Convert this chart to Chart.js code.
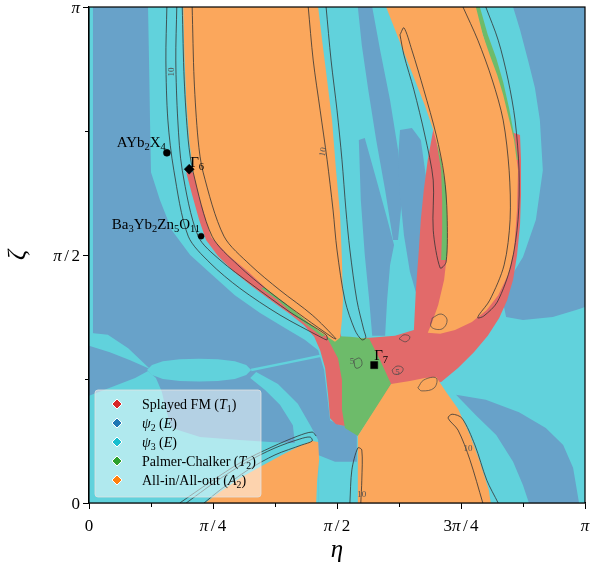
<!DOCTYPE html>
<html lang="en">
<head>
<meta charset="utf-8">
<title>Phase diagram</title>
<script src="https://cdn.jsdelivr.net/npm/chart.js@4.4.1/dist/chart.umd.min.js"></script>
<style>
  html, body { margin: 0; padding: 0; background: #ffffff; }
  #box { position: relative; width: 592px; height: 576px; }
</style>
</head>
<body>
<div id="box"><canvas id="phaseChart" width="592" height="576"></canvas></div>
<script>
// Phase diagram in the (eta, zeta) plane, both angles in units of pi.

// ---- phase regions, outlines as [eta, zeta] ----
const fullDomain = [[0, 0], [1, 0], [1, 1], [0, 1]];

const psi3Main = [[0.119, 1.0], [0.121, 0.893], [0.123, 0.772], [0.125, 0.667], [0.143, 0.611], [0.167, 0.550],
  [0.204, 0.500], [0.248, 0.460], [0.294, 0.419], [0.345, 0.383], [0.395, 0.353], [0.435, 0.329], [0.462, 0.308],
  [0.474, 0.268], [0.486, 0.167], [0.506, 0.157], [0.540, 0.157], [0.540, 0.083], [0.496, 0.083], [0.462, 0.097],
  [0.462, 0], [1, 0], [1, 0.395], [0.982, 0.389], [0.935, 0.375], [0.875, 0.369], [0.841, 0.375], [0.835, 0.403],
  [0.847, 0.450], [0.875, 0.496], [0.901, 0.571], [0.915, 0.671], [0.909, 0.772], [0.899, 0.837], [0.885, 0.893],
  [0.869, 0.954], [0.855, 1.0]];
const psi3Edge = [[0, 1], [0.008, 1], [0.008, 0.33], [0, 0.33]];
const psi3Wedge = [[0, 0.343], [0.038, 0.339], [0.079, 0.312], [0.123, 0.270], [0.083, 0.288], [0.042, 0.304], [0, 0.317]];
const psi3Ellipse = [[0.117, 0.268], [0.127, 0.278], [0.149, 0.286], [0.183, 0.290], [0.222, 0.291], [0.260, 0.290],
  [0.294, 0.286], [0.317, 0.278], [0.327, 0.268], [0.317, 0.258], [0.294, 0.250], [0.260, 0.246], [0.222, 0.245],
  [0.183, 0.246], [0.149, 0.250], [0.127, 0.258]];
const psi3LowerLeft = [[0, 0.216], [0.046, 0.234], [0.093, 0.252], [0.119, 0.266], [0.135, 0.252], [0.147, 0.224],
  [0.155, 0.188], [0.167, 0.151], [0.224, 0.133], [0.304, 0.127], [0.365, 0.123], [0.415, 0.121], [0.411, 0.157],
  [0.385, 0.198], [0.355, 0.228], [0.325, 0.252], [0.337, 0.264], [0.381, 0.240], [0.421, 0.200], [0.446, 0.157],
  [0.462, 0.127], [0.462, 0], [0, 0]];
const psi3Thread = [[0.327, 0.268], [0.405, 0.284], [0.502, 0.304]];

const psi2Streak1 = [[0.542, 1.0], [0.571, 1.0], [0.587, 0.913], [0.607, 0.812], [0.623, 0.712], [0.631, 0.611],
  [0.623, 0.530], [0.613, 0.530], [0.597, 0.631], [0.579, 0.732], [0.563, 0.833], [0.550, 0.923]];
const psi2Streak2 = [[0.544, 0.732], [0.556, 0.736], [0.577, 0.661], [0.599, 0.581], [0.615, 0.520], [0.607, 0.480],
  [0.601, 0.409], [0.597, 0.337], [0.571, 0.337], [0.565, 0.409], [0.556, 0.500], [0.548, 0.611]];
const psi2Streak3 = [[0.627, 0.752], [0.651, 0.756], [0.669, 0.732], [0.679, 0.661], [0.681, 0.591], [0.675, 0.520],
  [0.667, 0.470], [0.659, 0.425], [0.647, 0.466], [0.635, 0.540], [0.627, 0.621], [0.623, 0.692]];
const psi2LowerRight = [[0.740, 0.218], [0.800, 0.208], [0.867, 0.183], [0.921, 0.151], [0.956, 0.117], [0.976, 0.071],
  [0.988, 0], [0.887, 0], [0.875, 0.036], [0.855, 0.083], [0.821, 0.137], [0.780, 0.177]];

const splayedCore = [[0.196, 0.667], [0.208, 0.621], [0.222, 0.571], [0.236, 0.530], [0.260, 0.498], [0.292, 0.466],
  [0.331, 0.435], [0.369, 0.407], [0.405, 0.381], [0.433, 0.359], [0.454, 0.335], [0.466, 0.308], [0.476, 0.272],
  [0.482, 0.218], [0.486, 0.171], [0.498, 0.159], [0.538, 0.151], [0.617, 0.232], [0.710, 0.244], [0.744, 0.272],
  [0.776, 0.304], [0.804, 0.337], [0.827, 0.373], [0.843, 0.409], [0.855, 0.450], [0.863, 0.500], [0.869, 0.560],
  [0.871, 0.621], [0.871, 0.692], [0.869, 0.742], [0.839, 0.752], [0.768, 0.762], [0.708, 0.762], [0.694, 0.752],
  [0.683, 0.692], [0.675, 0.631], [0.669, 0.571], [0.665, 0.510], [0.659, 0.429], [0.655, 0.349], [0.617, 0.337],
  [0.567, 0.333], [0.510, 0.331], [0.498, 0.369], [0.486, 0.409], [0.385, 0.510], [0.284, 0.611], [0.224, 0.667]];

const pcLensEdge = [[0.347, 0.433], [0.381, 0.409], [0.409, 0.383], [0.442, 0.357], [0.470, 0.335], [0.496, 0.349],
  [0.435, 0.399], [0.375, 0.440]];
const pcBandLeft = [[0.700, 0.732], [0.710, 0.671], [0.712, 0.611], [0.712, 0.550], [0.710, 0.490], [0.728, 0.490],
  [0.730, 0.550], [0.730, 0.611], [0.726, 0.671], [0.716, 0.732]];
const pcBandRight = [[0.788, 1.0], [0.804, 0.944], [0.821, 0.897], [0.835, 0.849], [0.847, 0.796], [0.857, 0.742],
  [0.865, 0.692], [0.849, 0.692], [0.839, 0.772], [0.825, 0.833], [0.808, 0.893], [0.794, 0.944], [0.776, 1.0]];
const pcCore = [[0.478, 0.337], [0.526, 0.335], [0.565, 0.331], [0.587, 0.288], [0.609, 0.240], [0.577, 0.188],
  [0.542, 0.135], [0.516, 0.151], [0.510, 0.188], [0.510, 0.248], [0.502, 0.292]];

const aioLeftLens = [[0.190, 1.0], [0.192, 0.913], [0.196, 0.812], [0.202, 0.732], [0.210, 0.667], [0.224, 0.611],
  [0.246, 0.536], [0.280, 0.500], [0.321, 0.466], [0.361, 0.429], [0.395, 0.403], [0.431, 0.373], [0.466, 0.345],
  [0.496, 0.325], [0.506, 0.333], [0.510, 0.369], [0.512, 0.409], [0.510, 0.490], [0.506, 0.585], [0.498, 0.671],
  [0.490, 0.772], [0.480, 0.853], [0.470, 0.933], [0.462, 1.0]];
const aioRightBand = [[0.599, 1.0], [0.617, 0.954], [0.637, 0.903], [0.657, 0.853], [0.677, 0.802], [0.694, 0.752],
  [0.710, 0.692], [0.720, 0.631], [0.722, 0.571], [0.722, 0.504], [0.716, 0.450], [0.704, 0.399], [0.692, 0.365],
  [0.683, 0.343], [0.708, 0.341], [0.738, 0.349], [0.772, 0.365], [0.802, 0.389], [0.825, 0.419], [0.845, 0.460],
  [0.857, 0.510], [0.863, 0.591], [0.865, 0.671], [0.857, 0.732], [0.845, 0.782], [0.835, 0.823], [0.823, 0.863],
  [0.808, 0.903], [0.794, 0.944], [0.780, 1.0]];
const aioLower = [[0.542, 0], [0.542, 0.135], [0.609, 0.240], [0.647, 0.246], [0.677, 0.252], [0.700, 0.254],
  [0.720, 0.224], [0.744, 0.190], [0.768, 0.137], [0.788, 0.083], [0.806, 0.026], [0.810, 0]];
const aioCorner = [[0.234, 0], [0.264, 0.022], [0.304, 0.050], [0.349, 0.075], [0.389, 0.097], [0.425, 0.115],
  [0.450, 0.125], [0.462, 0.123], [0.464, 0.087], [0.460, 0.046], [0.458, 0]];

// ---- contour lines of the energy gap ----
const contourOuterLeft = [[0.157, 1.0], [0.155, 0.893], [0.159, 0.772], [0.171, 0.671], [0.200, 0.538], [0.244, 0.484],
  [0.304, 0.433], [0.385, 0.379], [0.470, 0.333], [0.480, 0.329], [0.478, 0.339], [0.405, 0.385], [0.329, 0.440],
  [0.264, 0.490], [0.220, 0.538], [0.188, 0.671], [0.179, 0.772], [0.175, 0.893], [0.177, 1.0]];
const contourInnerLeft = [[0.188, 1.0], [0.192, 0.853], [0.200, 0.732], [0.210, 0.667], [0.248, 0.538], [0.300, 0.480],
  [0.365, 0.425], [0.435, 0.373], [0.492, 0.333], [0.498, 0.331], [0.450, 0.379], [0.385, 0.429], [0.325, 0.480],
  [0.272, 0.538], [0.230, 0.667], [0.220, 0.732], [0.212, 0.853], [0.208, 1.0]];
const contourLensRight = [[0.442, 1.0], [0.452, 0.893], [0.466, 0.792], [0.480, 0.692], [0.492, 0.591], [0.500, 0.510],
  [0.516, 0.409], [0.536, 0.349], [0.550, 0.329], [0.558, 0.333], [0.554, 0.349], [0.540, 0.409], [0.526, 0.510],
  [0.518, 0.591], [0.510, 0.692], [0.500, 0.792], [0.488, 0.893], [0.478, 1.0]];
const contourBandLeft = [[0.627, 0.944], [0.635, 0.958], [0.651, 0.913], [0.675, 0.833], [0.700, 0.742], [0.716, 0.661],
  [0.722, 0.581], [0.720, 0.486], [0.708, 0.474], [0.694, 0.550], [0.694, 0.651], [0.677, 0.742], [0.655, 0.833],
  [0.635, 0.903], [0.627, 0.944]];
const contourBandRight = [[0.754, 1.0], [0.784, 0.933], [0.813, 0.853], [0.835, 0.772], [0.847, 0.671], [0.849, 0.571],
  [0.837, 0.480], [0.808, 0.409], [0.786, 0.379], [0.784, 0.373], [0.796, 0.377], [0.823, 0.405], [0.851, 0.480],
  [0.865, 0.571], [0.867, 0.671], [0.859, 0.772], [0.845, 0.853], [0.825, 0.933], [0.800, 1.0]];
const contourCorner = [[0.196, 0], [0.254, 0.042], [0.315, 0.081], [0.375, 0.111], [0.425, 0.129], [0.446, 0.133],
  [0.450, 0.125], [0.429, 0.117], [0.375, 0.097], [0.321, 0.067], [0.264, 0.026], [0.232, 0]];
const contourCornerOuter = [[0.183, 0], [0.244, 0.042], [0.308, 0.083], [0.369, 0.113], [0.421, 0.135], [0.450, 0.143],
  [0.458, 0.135]];
const contourLowerRight = [[0.794, 0], [0.768, 0.087], [0.744, 0.147], [0.724, 0.171], [0.732, 0.179], [0.752, 0.171],
  [0.778, 0.117], [0.802, 0.046], [0.825, 0]];
const contourLowerMid = [[0.526, 0], [0.530, 0.067], [0.542, 0.111], [0.550, 0.107], [0.550, 0.046], [0.548, 0]];
const contourSmallA = [[0.692, 0.373], [0.710, 0.381], [0.722, 0.369], [0.712, 0.351], [0.690, 0.355], [0.692, 0.373]];
const contourSmallB = [[0.663, 0.232], [0.675, 0.248], [0.700, 0.252], [0.696, 0.232], [0.671, 0.226], [0.663, 0.232]];
const contourSmallC = [[0.611, 0.268], [0.621, 0.276], [0.633, 0.272], [0.629, 0.262], [0.615, 0.260], [0.611, 0.268]];
const contourSmallD = [[0.534, 0.288], [0.546, 0.292], [0.550, 0.278], [0.538, 0.272], [0.534, 0.288]];
const contourSmallE = [[0.625, 0.331], [0.635, 0.339], [0.647, 0.335], [0.639, 0.325], [0.625, 0.331]];

// contour level labels
const levelEta = [0.167, 0.472, 0.764, 0.550, 0.530, 0.622];
const levelZeta = [0.869, 0.708, 0.109, 0.016, 0.286, 0.262];
const levelText = ['10', '10', '10', '10', '5', '5'];
const levelAngle = [-90, -80, 0, 0, 0, 0];

// ---- marked materials and special points ----
const pointEta = [0.157, 0.202, 0.226, 0.575];
const pointZeta = [0.706, 0.673, 0.538, 0.278];
const pointLabels = [
  [{ t: 'AYb' }, { t: '2', sub: 1 }, { t: 'X' }, { t: '4', sub: 1 }],
  [{ t: 'Γ' }, { t: '6', sub: 1 }],
  [{ t: 'Ba' }, { t: '3', sub: 1 }, { t: 'Yb' }, { t: '2', sub: 1 }, { t: 'Zn' }, { t: '5', sub: 1 }, { t: 'O' }, { t: '11', sub: 1 }],
  [{ t: 'Γ' }, { t: '7', sub: 1 }]
];

// ---- axes ----
const xTickValues = [0, 0.25, 0.5, 0.75, 1];
const xTickLabels = [
  [{ t: '0' }],
  [{ t: 'π', it: 1 }, { t: '/', pad: 2.5 }, { t: '4' }],
  [{ t: 'π', it: 1 }, { t: '/', pad: 2.5 }, { t: '2' }],
  [{ t: '3' }, { t: 'π', it: 1 }, { t: '/', pad: 2.5 }, { t: '4' }],
  [{ t: 'π', it: 1 }]
];
const xMinorTicks = [0.125, 0.375, 0.625, 0.875];
const yTickValues = [0, 0.5, 1];
const yTickLabels = [
  [{ t: '0' }],
  [{ t: 'π', it: 1 }, { t: '/', pad: 2.5 }, { t: '2' }],
  [{ t: 'π', it: 1 }]
];
const yMinorTicks = [0.25, 0.75];

// ---- legend ----
const phaseNames = [
  [{ t: 'Splayed FM (' }, { t: 'T', it: 1 }, { t: '1', sub: 1 }, { t: ')' }],
  [{ t: 'ψ', it: 1 }, { t: '2', sub: 1 }, { t: ' (' }, { t: 'E', it: 1 }, { t: ')' }],
  [{ t: 'ψ', it: 1 }, { t: '3', sub: 1 }, { t: ' (' }, { t: 'E', it: 1 }, { t: ')' }],
  [{ t: 'Palmer-Chalker (' }, { t: 'T', it: 1 }, { t: '2', sub: 1 }, { t: ')' }],
  [{ t: 'All-in/All-out (' }, { t: 'A', it: 1 }, { t: '2', sub: 1 }, { t: ')' }]
];
const phaseMarkerColors = ['#d62728', '#1f77b4', '#17becf', '#2ca02c', '#ff7f0e'];

// region fill colours
const RED = '#e26a6a', BLUE = '#68a2c9', CYAN = '#61d2dc', GREEN = '#6dbb6a', ORANGE = '#fba75c';
const SERIF = '"Liberation Serif", "DejaVu Serif", serif';

const regionLayers = [
  [fullDomain, BLUE],
  [psi3Main, CYAN], [psi3Edge, CYAN], [psi3Wedge, CYAN], [psi3Ellipse, CYAN], [psi3LowerLeft, CYAN],
  [psi2Streak1, BLUE], [psi2Streak2, BLUE], [psi2Streak3, BLUE], [psi2LowerRight, BLUE],
  [splayedCore, RED],
  [pcLensEdge, GREEN], [pcBandLeft, GREEN], [pcBandRight, GREEN], [pcCore, GREEN],
  [aioLeftLens, ORANGE], [aioRightBand, ORANGE], [aioLower, ORANGE], [aioCorner, ORANGE]
];
const contours = [contourOuterLeft, contourInnerLeft, contourLensRight, contourBandLeft, contourBandRight,
  contourCorner, contourCornerOuter, contourLowerRight, contourLowerMid];
const smallContours = [contourSmallA, contourSmallB, contourSmallC, contourSmallD, contourSmallE];

const toXY = pts => pts.map(([x, y]) => ({ x, y }));

// first datasets end up on top in Chart.js, so bottom layers get the highest order
const datasets = [];
regionLayers.forEach(([pts, color], i) => {
  datasets.push({
    type: 'line', data: toXY(pts), backgroundColor: color, borderColor: color, borderWidth: 0,
    pointRadius: 0, fill: 'shape', tension: 0, order: 1000 - i
  });
});
datasets.push({
  type: 'line', data: toXY(psi3Thread), borderColor: CYAN, borderWidth: 2.5,
  pointRadius: 0, fill: false, order: 1000 - 9.5
});
contours.forEach(pts => {
  datasets.push({
    type: 'line', data: toXY(pts), borderColor: '#333', borderWidth: 0.8,
    pointRadius: 0, fill: false, tension: 0.3, order: 10
  });
});
smallContours.forEach(pts => {
  datasets.push({
    type: 'line', data: toXY(pts), borderColor: '#444', borderWidth: 0.7,
    pointRadius: 0, fill: false, tension: 0.4, order: 10
  });
});
datasets.push({
  type: 'scatter', data: pointEta.map((x, i) => ({ x, y: pointZeta[i] })),
  pointStyle: ['circle', 'rectRot', 'circle', 'rect'], pointRadius: [3.5, 5, 3, 5],
  pointBackgroundColor: '#000', pointBorderColor: '#000', pointBorderWidth: 0.5, showLine: false, order: 0
});

// text with italic / subscript runs
function drawRich(ctx, parts, x, y, size, align) {
  const runs = parts.map(p => {
    const s = p.sub ? size * 0.7 : size;
    const font = (p.it ? 'italic ' : '') + s + 'px ' + SERIF;
    ctx.font = font;
    return { t: p.t, font, w: ctx.measureText(p.t).width, pad: p.pad || 0, dy: p.sub ? size * 0.22 : 0 };
  });
  const total = runs.reduce((a, r) => a + r.w + 2 * r.pad, 0);
  let cx = align === 'right' ? x - total : align === 'center' ? x - total / 2 : x;
  ctx.textAlign = 'left';
  ctx.textBaseline = 'alphabetic';
  runs.forEach(r => {
    ctx.font = r.font;
    cx += r.pad;
    ctx.fillText(r.t, cx, y + r.dy);
    cx += r.w + r.pad;
  });
}

const labelOffsets = [[-1, -6, 'right'], [1, -2, 'left'], [-1, -7, 'right'], [0, -5, 'left']];

const decorations = {
  id: 'decorations',
  afterDatasetsDraw(chart) {
    const { ctx, chartArea: a, scales: { x, y } } = chart;
    ctx.save();

    // contour level numbers
    ctx.fillStyle = '#555';
    ctx.font = '9px ' + SERIF;
    ctx.textAlign = 'center';
    ctx.textBaseline = 'middle';
    levelText.forEach((t, i) => {
      ctx.save();
      ctx.translate(x.getPixelForValue(levelEta[i]), y.getPixelForValue(levelZeta[i]));
      ctx.rotate(levelAngle[i] * Math.PI / 180);
      ctx.fillText(t, 0, 0);
      ctx.restore();
    });

    ctx.fillStyle = '#000';
    pointLabels.forEach((parts, i) => {
      const [dx, dy, align] = labelOffsets[i];
      drawRich(ctx, parts, x.getPixelForValue(pointEta[i]) + dx, y.getPixelForValue(pointZeta[i]) + dy, 15, align);
    });

    // legend box
    const lw = 166, lh = 107;
    const lx = a.left + 6, ly = a.bottom - 6 - lh;
    ctx.beginPath();
    if (ctx.roundRect) ctx.roundRect(lx, ly, lw, lh, 3); else ctx.rect(lx, ly, lw, lh);
    ctx.fillStyle = 'rgba(255,255,255,0.5)';
    ctx.fill();
    ctx.strokeStyle = 'rgba(225,225,225,0.8)';
    ctx.lineWidth = 1;
    ctx.stroke();
    phaseNames.forEach((parts, i) => {
      const cy = ly + 14 + i * 19;
      const mx = lx + 22;
      ctx.beginPath();
      ctx.moveTo(mx, cy - 5); ctx.lineTo(mx + 5, cy); ctx.lineTo(mx, cy + 5); ctx.lineTo(mx - 5, cy);
      ctx.closePath();
      ctx.fillStyle = phaseMarkerColors[i];
      ctx.fill();
      ctx.strokeStyle = '#fff';
      ctx.lineWidth = 1;
      ctx.stroke();
      ctx.fillStyle = '#000';
      drawRich(ctx, parts, lx + 47, cy + 5, 14, 'left');
    });
    ctx.restore();
  },
  afterDraw(chart) {
    const { ctx, chartArea: a, scales: { x, y } } = chart;
    ctx.save();
    ctx.strokeStyle = '#000';
    ctx.lineWidth = 1.2;
    ctx.strokeRect(a.left, a.top, a.right - a.left, a.bottom - a.top);

    ctx.lineWidth = 1;
    ctx.beginPath();
    xMinorTicks.forEach(v => {
      const px = Math.round(x.getPixelForValue(v)) + 0.5;
      ctx.moveTo(px, a.bottom); ctx.lineTo(px, a.bottom + 4);
    });
    yMinorTicks.forEach(v => {
      const py = Math.round(y.getPixelForValue(v)) + 0.5;
      ctx.moveTo(a.left, py); ctx.lineTo(a.left - 4, py);
    });
    ctx.stroke();

    ctx.fillStyle = '#000';
    xTickValues.forEach((v, i) => drawRich(ctx, xTickLabels[i], x.getPixelForValue(v), a.bottom + 28, 17, 'center'));
    yTickValues.forEach((v, i) => drawRich(ctx, yTickLabels[i], a.left - 9, y.getPixelForValue(v) + 5.5, 17, 'right'));

    // axis titles
    ctx.font = 'italic 25px ' + SERIF;
    ctx.textAlign = 'center';
    ctx.textBaseline = 'alphabetic';
    ctx.fillText('η', (a.left + a.right) / 2, 557);
    ctx.translate(25, (a.top + a.bottom) / 2);
    ctx.rotate(-Math.PI / 2);
    ctx.fillText('ζ', 0, 0);
    ctx.restore();
  }
};

new Chart(document.getElementById('phaseChart'), {
  type: 'line',
  data: { datasets },
  options: {
    responsive: false,
    animation: false,
    devicePixelRatio: 1,
    events: [],
    layout: { padding: { top: 7, right: 7, left: 0, bottom: 0 } },
    plugins: { legend: { display: false }, tooltip: { enabled: false } },
    scales: {
      x: {
        type: 'linear', min: 0, max: 1,
        ticks: { stepSize: 0.25, display: false },
        grid: { drawOnChartArea: false, tickLength: 6, tickColor: '#000', tickWidth: 1 },
        border: { color: '#000', width: 1.2 },
        afterFit: s => { s.height = 73; }
      },
      y: {
        type: 'linear', min: 0, max: 1,
        ticks: { stepSize: 0.5, display: false },
        grid: { drawOnChartArea: false, tickLength: 6, tickColor: '#000', tickWidth: 1 },
        border: { color: '#000', width: 1.2 },
        afterFit: s => { s.width = 89; }
      }
    }
  },
  plugins: [decorations]
});
</script>
</body>
</html>
